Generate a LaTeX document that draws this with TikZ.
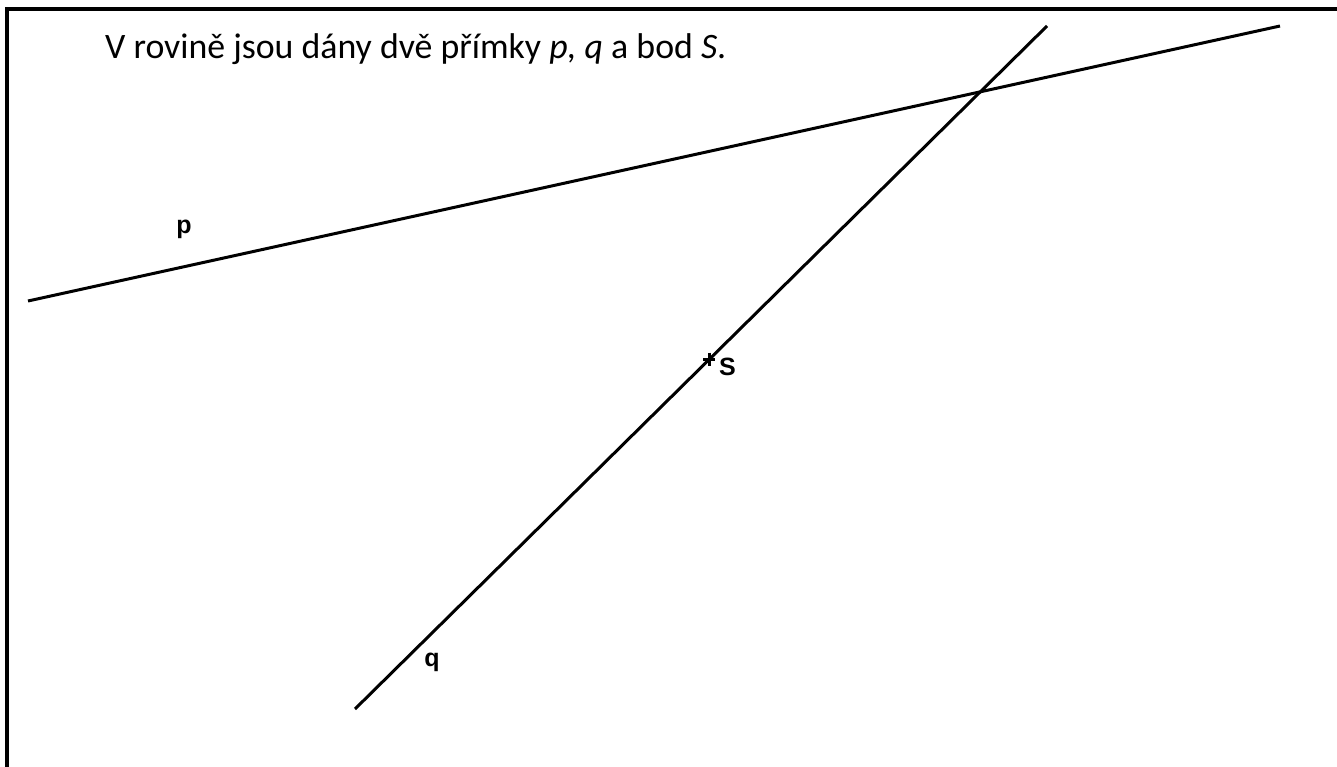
\documentclass[tikz,border=0pt]{standalone}
\usepackage{fontspec}
\setmainfont{Carlito}
\newfontfamily\labelfont{Liberation Sans}
\usetikzlibrary{positioning}

\begin{document}
\begin{tikzpicture}[
    x=1pt, y=-1pt,
    line/.style={line width=3pt},
    frame/.style={line width=4.5pt},
    label/.style={font=\labelfont\bfseries\fontsize{25}{25}\selectfont, inner sep=0pt},
]
\useasboundingbox (0,0) rectangle (1337,767);

% === RAMEČEK ===
\draw[frame] (7,767) -- (7,9) -- (1337,9);

% === ZADÁNÍ ===
\node[anchor=base west, inner sep=0pt, font=\fontsize{35.8}{36}\selectfont] (zadani) at (105,59)
    {V rovině jsou dány dvě přímky \textit{p, q} a bod \textit{S}.};

% Body
\coordinate (pA) at (28,301);
\coordinate (pB) at (1280,26);
\coordinate (qA) at (355,709);
\coordinate (qB) at (1047,26);
\coordinate (S) at (709,359);

% Přímky
\draw[line] (pA) -- (pB);
\draw[line] (qA) -- (qB);

% Bod S
\draw[line width=3pt] (S) ++(-6,0) -- ++(12,0) (S) ++(0,-6.5) -- ++(0,13);

% Popisky
\node[label] (lp) at (184,229) {p};
\node[label] (lq) at (432,662) {q};
\node[label, anchor=west] (lS) at (719,367) {S};

\end{tikzpicture}
\end{document}
